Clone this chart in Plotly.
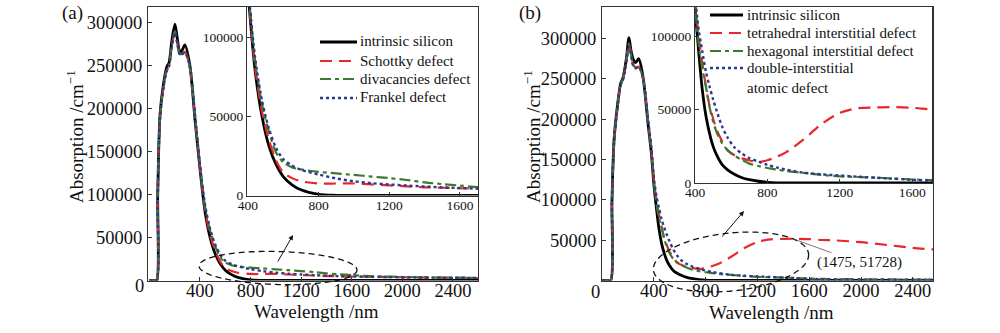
import numpy as np
import plotly.graph_objects as go

# ---------------- data: panel (a) ----------------
wl_a = [0, 40, 58, 66, 84, 110, 137, 155, 176, 202, 221, 242, 260, 281, 320, 360,
        400, 440, 480, 520, 560, 600, 650, 700, 800, 900, 1000, 1100, 1200, 1300,
        1400, 1500, 1600, 1700, 1900, 2100, 2300, 2500, 2600]
intrinsic_a = [0, 0, 0, 100000, 193000, 227000, 248000, 253000, 277000, 298000, 281000,
               265000, 268000, 274000, 250000, 188000,
               130000, 80000, 50000, 31000, 19500, 12000, 6800, 3600, 700, 100, 0, 0, 0, 0,
               0, 0, 0, 0, 0, 0, 0, 0, 0]
schottky_a = [0, 0, 0, 97000, 189000, 223000, 244000, 249000, 271000, 289000, 276000,
              262000, 263000, 266000, 247000, 190000,
              132000, 82000, 53000, 35000, 22000, 14500, 11000, 9000, 7600, 7600, 7600, 7000,
              6400, 5800, 5200, 4900, 4600, 4400, 4000, 3600, 3300, 3000, 2900]
divacancy_a = [0, 0, 0, 98000, 190000, 224000, 245000, 250000, 272000, 290000, 276000,
               263000, 264000, 266000, 248000, 192000,
               133000, 86000, 58000, 40000, 27000, 21000, 17800, 16500, 15000, 14000, 13000,
               12000, 11000, 9800, 8300, 7200, 6300, 5300, 4400, 3800, 3400, 3100, 3000]
frankel_a = [0, 0, 0, 96000, 188000, 223000, 244000, 249000, 271000, 288000, 275000,
             262000, 263000, 265000, 249000, 194000,
             134000, 88000, 60000, 42000, 30000, 23000, 19000, 16300, 13300, 10800, 9000,
             7800, 7000, 6300, 5700, 5100, 4700, 4400, 4000, 3600, 3300, 3100, 3000]

# ---------------- data: panel (b) ----------------
wl_b = [0, 40, 67, 77, 93, 118, 144, 162, 188, 208, 224, 239, 260, 283, 317, 355, 381,
        400, 420, 440, 460, 480, 500, 520, 550, 580, 620, 660, 700, 750, 800, 850, 900,
        1000, 1100, 1200, 1300, 1400, 1475, 1600, 1700, 1800, 2000, 2200, 2400, 2560]
intrinsic_b = [0, 0, 0, 99000, 174000, 215000, 244000, 251000, 275000, 301000, 285000,
               275000, 270000, 275000, 252000, 195000, 158000,
               120000, 90000, 64000, 46000, 34000, 25000, 19000, 12500, 9000, 5800, 3600,
               2300, 1200, 500, 150, 0,
               0, 0, 0, 0, 0, 0, 0, 0, 0, 0, 0, 0, 0]
tetrahedral_b = [0, 0, 0, 97000, 172000, 213000, 243000, 250000, 272000, 294000, 281000,
                 268000, 264000, 265000, 250000, 197000, 162000,
                 125000, 100000, 82000, 66000, 53000, 44000, 36300, 28500, 22200, 18800,
                 16800, 15400, 14400, 15500, 17800, 20700,
                 29700, 40300, 47800, 51000, 51500, 51728, 51300, 50200, 49700, 47500,
                 44000, 40500, 38500]
hexagonal_b = [0, 0, 0, 98000, 173000, 214000, 243000, 250000, 272000, 293000, 281000,
               268000, 264000, 265000, 250000, 197000, 161000,
               122000, 95000, 78000, 66000, 52000, 42000, 34500, 27000, 22500, 18500,
               15700, 13200, 11600, 10200, 9200, 8200,
               6900, 5500, 4500, 4100, 3600, 3200, 2400, 2000, 1800, 1500, 1300, 1200, 1100]
double_b = [0, 0, 0, 96000, 171000, 212000, 242000, 249000, 271000, 292000, 280000,
            267000, 263000, 265000, 252000, 200000, 165000,
            128000, 105000, 90000, 76000, 66000, 57000, 49000, 38500, 31000, 24000,
            20000, 17000, 14600, 12300, 10600, 9200,
            7000, 5900, 5100, 4300, 3600, 3100, 2200, 1500, 1300, 1100, 1000, 900, 900]

labels_a = ["intrinsic silicon", "Schottky defect", "divacancies defect", "Frankel defect"]
labels_b = ["intrinsic silicon", "tetrahedral interstitial defect",
            "hexagonal interstitial defect", "double-interstitial<br>atomic defect"]

main_x_ticks = [400, 800, 1200, 1600, 2000, 2400]
main_y_ticks = [50000, 100000, 150000, 200000, 250000, 300000]
inset_x_ticks = [400, 800, 1200, 1600]
inset_y_ticks = [0, 50000, 100000]
peak_point = (1475, 51728)

# ---------------- styling ----------------
FONT = "Liberation Serif"
BLACK, RED, GREEN, BLUE = "#000000", "#e8262c", "#3a7a2a", "#2b3a8e"
styles = [
    dict(color=BLACK, width=2.8, dash="solid"),
    dict(color=RED, width=2.2, dash="12px,7px"),
    dict(color=GREEN, width=2.2, dash="11px,4px,4px,4px"),
    dict(color=BLUE, width=2.4, dash="dot"),
]
W, H = 1000, 333


def px2paper_x(px):
    return px / W


def px2paper_y(py):
    return 1 - py / H


fig = go.Figure()

panels = [
    ("x", "y", "x2", "y2", wl_a, [intrinsic_a, schottky_a, divacancy_a, frankel_a], labels_a),
    ("x3", "y3", "x4", "y4", wl_b, [intrinsic_b, tetrahedral_b, hexagonal_b, double_b], labels_b),
]
for mx, my, ix, iy, wl, series, labels in panels:
    for s, st, lab in zip(series, styles, labels):
        fig.add_trace(go.Scatter(x=wl, y=s, mode="lines", xaxis=mx, yaxis=my, name=lab,
                                 line=dict(shape="spline", smoothing=0.8, **st),
                                 showlegend=False, hoverinfo="skip"))
    for s, st, lab in zip(series, styles, labels):
        fig.add_trace(go.Scatter(x=wl, y=s, mode="lines", xaxis=ix, yaxis=iy, name=lab,
                                 line=dict(shape="spline", smoothing=0.8, **st),
                                 showlegend=False, hoverinfo="skip"))


def ax(domain, rng, ticks, size, anchor, standoff=0):
    return dict(domain=domain, range=rng, tickvals=ticks, ticktext=[str(t) for t in ticks],
                ticks="inside", ticklen=4, tickcolor="#333", showline=True, mirror=True,
                linecolor="#333", linewidth=1, showgrid=False, zeroline=False,
                tickfont=dict(family=FONT, size=size, color="#111"), anchor=anchor,
                ticklabelstandoff=standoff, fixedrange=True)


ymain_dom = [px2paper_y(280.5), px2paper_y(7)]
fig.update_layout(
    width=W, height=H, margin=dict(l=0, r=0, t=0, b=0, autoexpand=False),
    paper_bgcolor="white", plot_bgcolor="white", showlegend=False,
    xaxis=ax([0.148, 0.478], [-11, 2598], main_x_ticks, 18.5, "y", -7),
    yaxis=ax(ymain_dom, [0, 318000], main_y_ticks, 18.5, "x", 1),
    xaxis2=ax([0.247, 0.478], [395, 1702], inset_x_ticks, 13.5, "y2", -3),
    yaxis2=ax([px2paper_y(195.5), px2paper_y(7)], [0, 119300], inset_y_ticks, 13.5, "x2"),
    xaxis3=ax([0.602, 0.933], [0, 2556], main_x_ticks, 18.5, "y3", -7),
    yaxis3=ax(ymain_dom, [0, 339000], main_y_ticks, 18.5, "x3", 1),
    xaxis4=ax([0.695, 0.932], [400, 1709], inset_x_ticks, 13.5, "y4", -3),
    yaxis4=ax([px2paper_y(183), px2paper_y(7)], [0, 120000], inset_y_ticks, 13.5, "x4"),
)

# ---------------- legends (samples + real text) ----------------
annos = []
legend_specs = [
    (labels_a, 320, 357, 359, [42, 61, 79, 98]),
    (labels_b, 710, 743, 746, [15, 33, 51, 68]),
]
for labs, x0, x1, tx, rows in legend_specs:
    for lab, st, ry in zip(labs, styles, rows):
        fig.add_shape(type="line", xref="paper", yref="paper",
                      x0=px2paper_x(x0), x1=px2paper_x(x1), y0=px2paper_y(ry), y1=px2paper_y(ry),
                      line=dict(color=st["color"], width=st["width"], dash=st["dash"]))
        annos.append(dict(x=px2paper_x(tx), y=px2paper_y(ry - 9.5), xref="paper", yref="paper",
                          text=lab, showarrow=False, xanchor="left", yanchor="top", align="left",
                          font=dict(family=FONT, size=15, color="#111"), borderpad=0))


def ellipse_path(cx, cy, rx, ry, ang_deg, n=90):
    t = np.linspace(0, 2 * np.pi, n)
    a = np.radians(ang_deg)
    xs = cx + rx * np.cos(t) * np.cos(a) - ry * np.sin(t) * np.sin(a)
    ys = cy + rx * np.cos(t) * np.sin(a) + ry * np.sin(t) * np.cos(a)
    pts = [f"{px2paper_x(x):.5f},{px2paper_y(y):.5f}" for x, y in zip(xs, ys)]
    return "M " + " L ".join(pts) + " Z"


for cx, cy, rx, ry, ang in [(278, 268, 79, 16.5, 1.5), (731, 262, 78, 29, -6)]:
    fig.add_shape(type="path", path=ellipse_path(cx, cy, rx, ry, ang), xref="paper", yref="paper",
                  line=dict(color="#111", width=1.3, dash="6px,4px"))

# arrows pointing to insets
for (tx, ty), (hx, hy) in [((277, 263), (293, 235)), ((721, 238), (744, 211))]:
    annos.append(dict(x=px2paper_x(hx), y=px2paper_y(hy), xref="paper", yref="paper", text="",
                      showarrow=True, ax=tx - hx, ay=ty - hy, arrowhead=2, arrowsize=1,
                      arrowwidth=1, arrowcolor="#111"))
annos.append(dict(x=peak_point[0], y=peak_point[1], xref="x3", yref="y3",
                  text=f"({peak_point[0]}, {peak_point[1]})", showarrow=True, ax=66, ay=24,
                  arrowhead=0, arrowwidth=0.8, arrowcolor="#555",
                  font=dict(family=FONT, size=15, color="#111")))
# text labels
txt = [
    ("(a)", 72, 13, 19, 0), ("(b)", 530, 13, 19, 0),
    ("0", 139, 286, 18.5, 0), ("0", 595, 292, 18.5, 0),
    ("Wavelength /nm", 316, 311, 19, 0), ("Wavelength /nm", 771, 312, 19, 0),
    ("Absorption /cm<sup>−1</sup>", 75, 137, 19, -90), ("Absorption /cm<sup>−1</sup>", 532, 137, 19, -90),
]
for t, x, y, s, rot in txt:
    annos.append(dict(x=px2paper_x(x), y=px2paper_y(y), xref="paper", yref="paper", text=t,
                      showarrow=False, xanchor="center", yanchor="middle", textangle=rot,
                      font=dict(family=FONT, size=s, color="#111")))
fig.update_layout(annotations=annos)

fig.write_html("out.html", config={"displayModeBar": False},
               post_script="document.body.style.margin='0';document.body.style.overflow='hidden';")
